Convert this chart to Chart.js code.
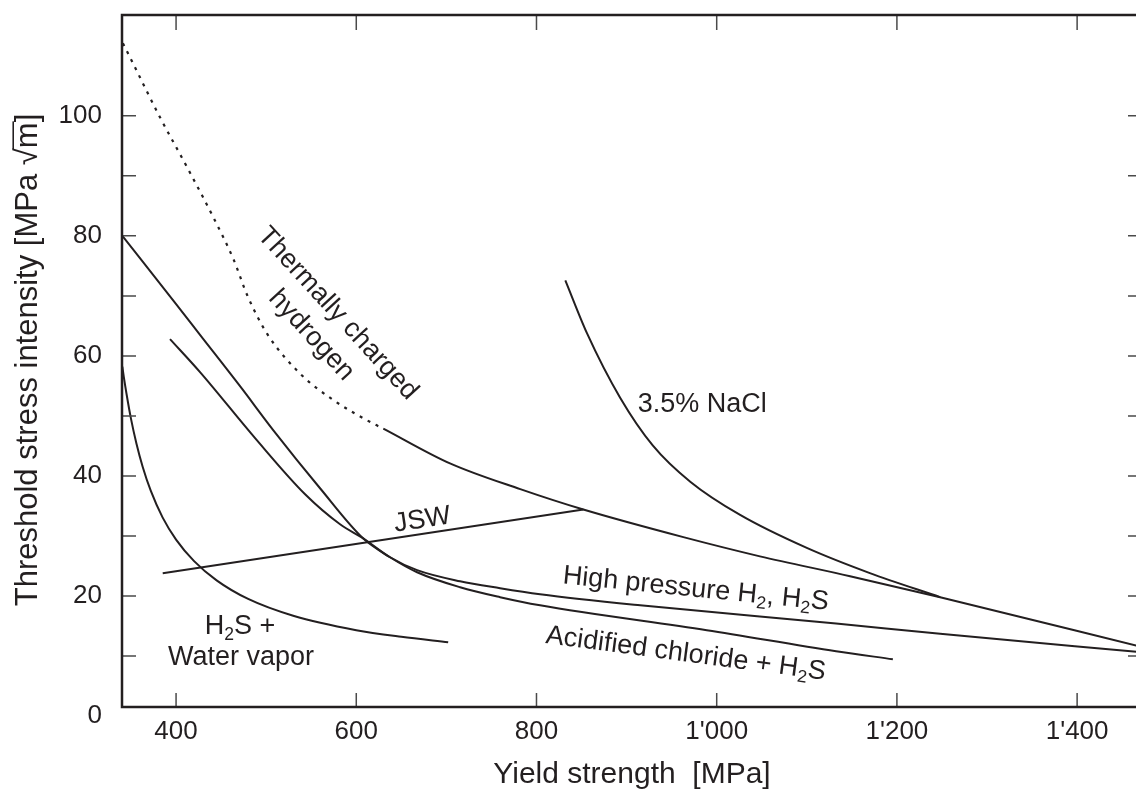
<!DOCTYPE html>
<html><head><meta charset="utf-8">
<script src="https://cdn.jsdelivr.net/npm/chart.js@4.4.1/dist/chart.umd.min.js"></script>
<style>
html,body{margin:0;padding:0;background:#fff;overflow:hidden;width:1136px;height:794px;}
#wrap{position:absolute;left:0;top:0;width:1150px;height:794px;}
</style></head><body>
<div id="wrap"><canvas id="c" width="1150" height="794"></canvas></div>
<script>
const FONT = "'Liberation Sans', Arial, Helvetica, sans-serif";
const INK = '#231f20';
const TICK = '#4a4a4a';

// axis ticks
const xTickValues = [400, 600, 800, 1000, 1200, 1400];
const yTickValues = [0, 20, 40, 60, 80, 100];
const yTickMarks = [10, 20, 30, 40, 50, 60, 70, 80, 90, 100];

// Thermally charged hydrogen (dotted part, then solid part)
const thermalDottedX = [341, 353, 382, 412, 441, 464, 479, 501, 538, 575, 619, 630];
const thermalDottedY = [112.1, 108.5, 99.8, 91.5, 83.2, 76.0, 70.1, 63.7, 57.0, 52.6, 48.7, 47.9];
const thermalSolidX = [630, 704, 782, 852, 963, 1048, 1148, 1248, 1475];
const thermalSolidY = [47.9, 42.1, 37.8, 34.4, 29.8, 26.6, 23.3, 19.8, 11.4];

// 3.5% NaCl
const naclX = [832, 856, 893, 929, 971, 1026, 1100, 1170, 1248];
const naclY = [72.6, 63.8, 53.0, 45.1, 39.0, 33.5, 28.0, 23.8, 19.8];

// Acidified chloride + H2S
const acidX = [340.4, 397, 426.6, 471, 508, 559.8, 607.6, 637.5, 667.5, 715.2, 759.6, 804, 989, 1132.5, 1195.5];
const acidY = [80.0, 69.2, 63.5, 54.95, 47.6, 37.95, 29.6, 26.45, 23.95, 21.45, 19.8, 18.45, 14.3, 10.8, 9.45];

// High pressure H2, H2S
const hpX = [393.3, 426.6, 487.7, 543.2, 582, 607.6, 637.5, 667.5, 715.2, 759.6, 804, 915, 1132.5, 1248, 1472.2];
const hpY = [62.8, 57.3, 46.3, 36.95, 31.95, 29.6, 26.45, 24.3, 22.45, 21.3, 20.3, 18.45, 15.4, 13.7, 10.6];

// H2S + Water vapor
const waterX = [340.4, 342, 345, 350, 356, 363, 372, 385, 400, 420, 445, 480, 530, 600, 650, 702];
const waterY = [58.2, 56.5, 53.7, 49.5, 45.4, 41.5, 37.5, 33.1, 29.4, 25.8, 22.6, 19.5, 16.7, 14.3, 13.2, 12.3];

// JSW
const jswX = [385.2, 852.1];
const jswY = [23.8, 34.4];

const pts = (xs, ys) => xs.map((v, i) => ({x: v, y: ys[i]}));

const curveLabels = [
  {segs: [{t: 'Thermally charged'}], x: 581, y: 67.3, rot: 47.5},
  {segs: [{t: 'hydrogen'}], x: 552, y: 63.7, rot: 47.5},
  {segs: [{t: '3.5% NaCl'}], x: 984, y: 52.2, rot: 0},
  {segs: [{t: 'JSW'}], x: 673, y: 33.0, rot: -8.6},
  {segs: [{t: 'High pressure H'}, {t: '2', sub: 1}, {t: ', H'}, {t: '2', sub: 1}, {t: 'S'}], x: 977, y: 21.5, rot: 5.7},
  {segs: [{t: 'Acidified chloride + H'}, {t: '2', sub: 1}, {t: 'S'}], x: 966, y: 10.7, rot: 7.5},
  {segs: [{t: 'H'}, {t: '2', sub: 1}, {t: 'S +'}], x: 471, y: 15.25, rot: 0},
  {segs: [{t: 'Water vapor'}], x: 472, y: 10.1, rot: 0},
];

function fmtThousands(v) {
  if (v >= 1000) return Math.floor(v / 1000) + "'" + String(v % 1000).padStart(3, '0');
  return String(v);
}

function drawRich(ctx, segs, cx, cy, angleDeg, fs) {
  const sfs = fs * 0.65;
  let w = 0;
  segs.forEach(s => { ctx.font = (s.sub ? sfs : fs) + 'px ' + FONT; s.w = ctx.measureText(s.t).width; w += s.w; });
  ctx.save();
  ctx.translate(cx, cy);
  ctx.rotate(angleDeg * Math.PI / 180);
  ctx.textAlign = 'left';
  ctx.textBaseline = 'alphabetic';
  ctx.fillStyle = INK;
  let x = -w / 2;
  const base = fs * 0.358;
  segs.forEach(s => {
    ctx.font = (s.sub ? sfs : fs) + 'px ' + FONT;
    ctx.fillText(s.t, x, base + (s.sub ? fs * 0.2 : 0));
    x += s.w;
  });
  ctx.restore();
}

const framePlugin = {
  id: 'frame',
  afterDraw(chart) {
    const {ctx, chartArea: a, scales: {x, y}} = chart;
    ctx.save();
    ctx.strokeStyle = TICK;
    ctx.lineWidth = 1.5;
    ctx.beginPath();
    yTickMarks.forEach(v => {
      const py = y.getPixelForValue(v);
      ctx.moveTo(a.left, py); ctx.lineTo(a.left + 14, py);
      ctx.moveTo(a.right - 14, py); ctx.lineTo(a.right, py);
    });
    xTickValues.forEach(v => {
      const px = x.getPixelForValue(v);
      ctx.moveTo(px, a.bottom); ctx.lineTo(px, a.bottom - 14);
      ctx.moveTo(px, a.top); ctx.lineTo(px, a.top + 15);
    });
    ctx.stroke();
    ctx.strokeStyle = INK;
    ctx.lineWidth = 2.5;
    ctx.strokeRect(a.left, a.top, a.right - a.left, a.bottom - a.top);

    // curve labels
    curveLabels.forEach(l => drawRich(ctx, l.segs, x.getPixelForValue(l.x), y.getPixelForValue(l.y), l.rot, 27));

    // y axis title with radical overline
    const fs = 31;
    ctx.font = fs + 'px ' + FONT;
    const p1 = 'Threshold stress intensity [MPa \u221A', p2 = 'm', p3 = ']';
    const w1 = ctx.measureText(p1).width, w2 = ctx.measureText(p2).width, w3 = ctx.measureText(p3).width;
    const W = w1 + w2 + w3;
    ctx.translate(26, 360);
    ctx.rotate(-Math.PI / 2);
    ctx.fillStyle = INK;
    ctx.textAlign = 'left';
    ctx.textBaseline = 'alphabetic';
    const bl = fs * 0.358;
    let sx = -W / 2;
    ctx.fillText(p1, sx, bl);
    ctx.fillText(p2, sx + w1, bl);
    ctx.fillText(p3, sx + w1 + w2, bl);
    ctx.strokeStyle = INK;
    ctx.lineWidth = 1.6;
    ctx.beginPath();
    ctx.moveTo(sx + w1 - 1, bl - fs * 0.77);
    ctx.lineTo(sx + w1 + w2 + 1, bl - fs * 0.77);
    ctx.stroke();
    ctx.restore();
  }
};

const lineDs = (data, extra) => Object.assign({
  data, showLine: true, borderColor: INK, borderWidth: 2, pointRadius: 0,
  fill: false, cubicInterpolationMode: 'monotone'
}, extra || {});

new Chart(document.getElementById('c'), {
  type: 'scatter',
  data: {
    datasets: [
      lineDs(pts(thermalDottedX, thermalDottedY), {label: 'Thermally charged hydrogen (extrapolated)', borderDash: [3, 6], borderWidth: 2.2}),
      lineDs(pts(thermalSolidX, thermalSolidY), {label: 'Thermally charged hydrogen'}),
      lineDs(pts(naclX, naclY), {label: '3.5% NaCl'}),
      lineDs(pts(acidX, acidY), {label: 'Acidified chloride + H2S'}),
      lineDs(pts(hpX, hpY), {label: 'High pressure H2, H2S'}),
      lineDs(pts(waterX, waterY), {label: 'H2S + Water vapor'}),
      lineDs(pts(jswX, jswY), {label: 'JSW', cubicInterpolationMode: 'default', tension: 0}),
    ]
  },
  options: {
    responsive: false,
    animation: false,
    layout: {padding: {top: 15, right: 8, left: 0, bottom: 0}},
    plugins: {legend: {display: false}, tooltip: {enabled: false}},
    scales: {
      x: {
        type: 'linear', position: 'bottom', min: 340, max: 1472,
        afterBuildTicks: s => { s.ticks = xTickValues.map(v => ({value: v})); },
        afterFit: s => { s.height = 87; s.paddingLeft = 0; s.paddingRight = 0; },
        grid: {display: false, drawTicks: false},
        border: {display: false},
        ticks: {autoSkip: false, maxRotation: 0, padding: 9, color: INK, font: {family: FONT, size: 26}, callback: v => fmtThousands(v)},
        title: {display: true, text: 'Yield strength  [MPa]', color: INK, font: {family: FONT, size: 30}, padding: {top: 0, bottom: 1}}
      },
      y: {
        type: 'linear', position: 'left', min: 1.5, max: 116.8,
        afterBuildTicks: s => { s.ticks = yTickValues.map(v => ({value: v})); },
        afterFit: s => { s.width = 122; s.paddingTop = 0; s.paddingBottom = 0; },
        grid: {display: false, drawTicks: false},
        border: {display: false},
        ticks: {autoSkip: false, padding: 20, color: INK, font: {family: FONT, size: 26}, callback: v => String(v)}
      }
    }
  },
  plugins: [framePlugin]
});
</script>
</body></html>
